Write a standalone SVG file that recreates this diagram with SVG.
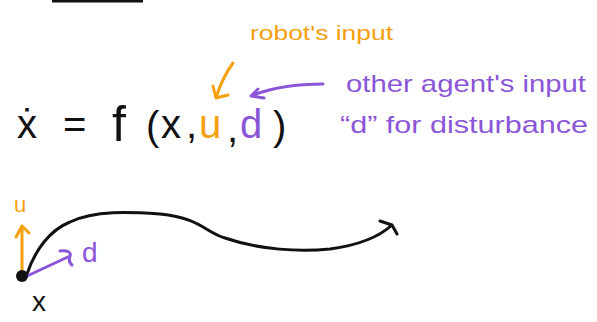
<svg xmlns="http://www.w3.org/2000/svg" width="597" height="322" viewBox="0 0 597 322">
<style>
.or{fill:#F5A00F}.pu{fill:#8B55D8}.bk{fill:#111}
.t{font-family:"Liberation Sans","DejaVu Sans",sans-serif}
.so{stroke:#F5A00F;fill:none;stroke-width:3;stroke-linecap:round;stroke-linejoin:round}
.sp{stroke:#8B55D8;fill:none;stroke-width:3;stroke-linecap:round;stroke-linejoin:round}
.sb{stroke:#111;fill:none;stroke-width:3;stroke-linecap:round;stroke-linejoin:round}
</style>
<rect width="597" height="322" fill="#fff"/>
<rect x="52" y="0" width="91" height="2.5" fill="#111"/>
<g id="labels">
<text class="t or" x="250" y="40" font-size="20" textLength="143" lengthAdjust="spacingAndGlyphs">robot's input</text>
<text class="t pu" x="346" y="92" font-size="24" textLength="240" lengthAdjust="spacingAndGlyphs">other agent's input</text>
<text class="t pu" x="340" y="133" font-size="24" textLength="248" lengthAdjust="spacingAndGlyphs">“d” for disturbance</text>
</g>
<g id="equation" class="t" font-size="40">
<text class="bk" x="17" y="138">ẋ</text>
<text class="bk" x="63" y="138">=</text>
<text class="bk" x="112" y="141" font-size="50">f</text>
<text class="bk" x="146" y="140">(</text>
<text class="bk" x="161" y="138">x</text>
<text class="bk" x="186" y="138">,</text>
<text class="or" x="199" y="138">u</text>
<text class="bk" x="227" y="142">,</text>
<text class="pu" x="240" y="138">d</text>
<text class="bk" x="273" y="140">)</text>
</g>
<g id="connectors">
<path class="so" d="M233 63 Q222 78 216 98 M213 86 L216 98 L228 95"/>
<path class="sp" d="M323 84 Q280 84 251 96 M258 89 L251 96 L264 98"/>
<path class="sb" d="M27 274 C35 250 50 230 70 222 C95 210 130 212 160 214 C200 218 205 232 225 238 C260 250 300 252 330 249 C360 245 380 236 392 225 M380 221 L392 225 L397 234"/>
<path class="so" d="M22 274 L22 226 M16 237 L22 226 L29 233"/>
<path class="sp" d="M27 276 L70 256 M60 251 Q72 250 70 256 Q68 262 72 265"/>
</g>
<g id="point">
<circle cx="22" cy="276" r="6" fill="#111"/>
<text class="t or" x="14" y="212" font-size="22">u</text>
<text class="t pu" x="82" y="262" font-size="28">d</text>
<text class="t bk" x="32" y="311" font-size="28">x</text>
</g>
</svg>
